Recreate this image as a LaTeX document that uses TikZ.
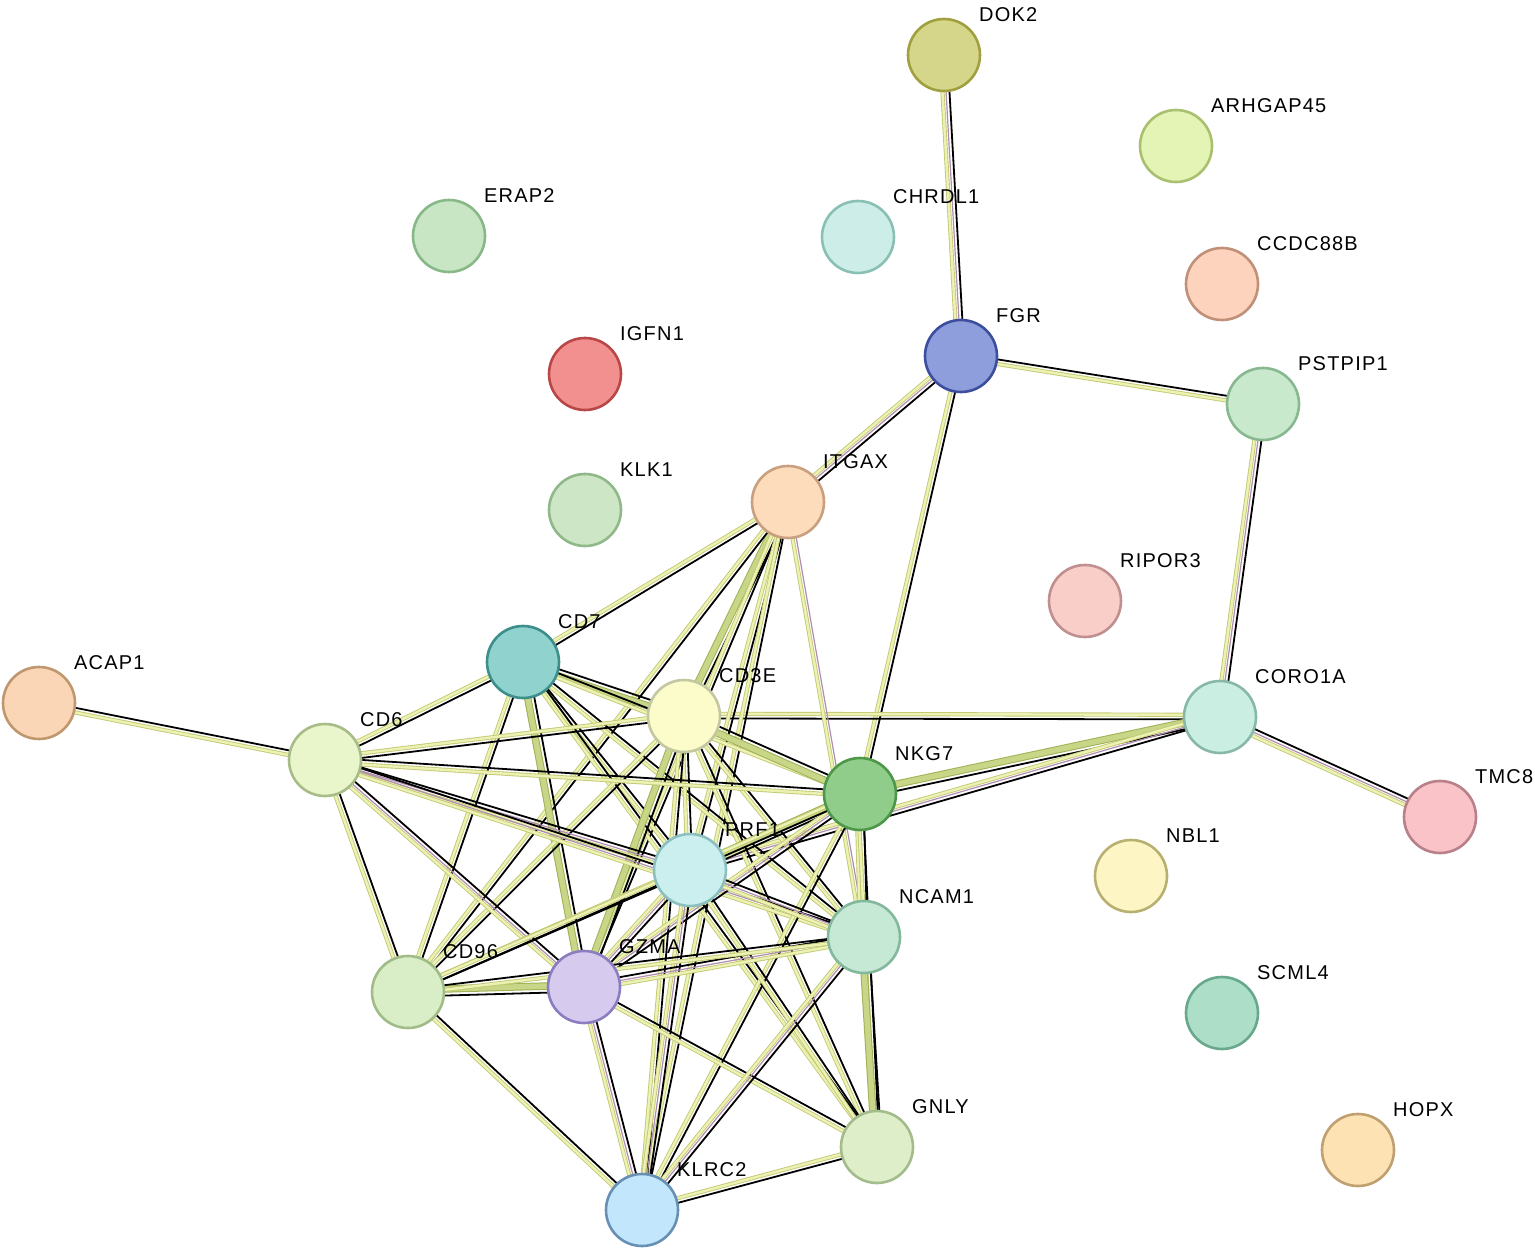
\documentclass[tikz,border=0pt]{standalone}
\usepackage{fontspec}
\setmainfont[LetterSpace=6]{Liberation Sans}
\usetikzlibrary{calc}
\pgfdeclarelayer{bg}\pgfsetlayers{bg,main}
\definecolor{yb}{HTML}{C2CA74}
\definecolor{yf}{HTML}{EDF2B4}
\definecolor{Yb}{HTML}{A0B056}
\definecolor{Yf}{HTML}{C8D688}
\definecolor{pk}{HTML}{B08CB0}
\tikzset{
 gene/.style={circle, minimum size=72pt, inner sep=0pt, line width=2.6pt},
 lbl/.style={anchor=west, font=\fontsize{20}{22}\selectfont, inner sep=0pt},
 kst/.style={draw=black, line width=1.8pt},
 yst/.style={draw=yb, double=yf, double distance=2.4pt, line width=0.9pt},
 Yst/.style={draw=Yb, double=Yf, double distance=5.5pt, line width=1pt},
 pst/.style={draw=pk, line width=1.2pt},
}
\newcommand\estrand[4]{\draw[#4] ($(#1)!#3!90:(#2)$) -- ($(#2)!#3!-90:(#1)$);}
\newcommand\eky[2]{\estrand{#1}{#2}{-2.2pt}{yst}\estrand{#1}{#2}{2.4pt}{kst}}
\newcommand\ekyp[2]{\estrand{#1}{#2}{-3.6pt}{yst}\estrand{#1}{#2}{0pt}{pst}\estrand{#1}{#2}{3.4pt}{kst}}
\newcommand\eKky[2]{\estrand{#1}{#2}{-2pt}{Yst}\estrand{#1}{#2}{4.6pt}{kst}}
\newcommand\eyp[2]{\estrand{#1}{#2}{-1.8pt}{yst}\estrand{#1}{#2}{2pt}{pst}}
\newcommand\gene[6]{%
 \definecolor{f#1}{HTML}{#4}\definecolor{b#1}{HTML}{#5}%
 \node[gene, fill=f#1, draw=b#1] (#1) at (#2,#3) {};
 \node[lbl] (t#1) at (#2+35,#3-40) {#6};}
\begin{document}
\begin{tikzpicture}[x=1pt,y=-1pt]
\useasboundingbox (0,0) rectangle (1535,1249);
\gene{DOK2}{944}{55}{D6D68A}{A0A040}{DOK2}
\gene{ARHGAP45}{1176}{146}{E4F4B4}{A8C070}{ARHGAP45}
\gene{ERAP2}{449}{236}{C8E6C4}{88B888}{ERAP2}
\gene{CHRDL1}{858}{237}{CDEEE8}{88C0B4}{CHRDL1}
\gene{CCDC88B}{1222}{284}{FDD3BD}{C09078}{CCDC88B}
\gene{FGR}{961}{356}{8E9DDB}{3D4E9E}{FGR}
\gene{IGFN1}{585}{374}{F29090}{B84848}{IGFN1}
\gene{PSTPIP1}{1263}{404}{C9E9CC}{88B890}{PSTPIP1}
\gene{KLK1}{585}{510}{CDE6C6}{90B888}{KLK1}
\gene{ITGAX}{788}{502}{FDDCBC}{C8A080}{ITGAX}
\gene{RIPOR3}{1085}{601}{F9CDC8}{C09090}{RIPOR3}
\gene{CD7}{523}{662}{8FD2CE}{3E8E8C}{CD7}
\gene{ACAP1}{39}{703}{FBD6B6}{C09870}{ACAP1}
\gene{CD3E}{684}{716}{FBFCCA}{C4C8A0}{CD3E}
\gene{CORO1A}{1220}{717}{CBEEE2}{88B8A8}{CORO1A}
\gene{CD6}{325}{760}{E9F5CA}{A8BC88}{CD6}
\gene{NKG7}{860}{794}{90CC8A}{4C9848}{NKG7}
\gene{TMC8}{1440}{817}{F9C3C8}{B88088}{TMC8}
\gene{PRF1}{690}{870}{CBEEEE}{8CC0C0}{PRF1}
\gene{NBL1}{1131}{876}{FDF5C4}{B8B070}{NBL1}
\gene{NCAM1}{864}{937}{C6E9D6}{84B89C}{NCAM1}
\gene{CD96}{408}{992}{D9EDC6}{A0BC88}{CD96}
\gene{GZMA}{584}{987}{D6CBEE}{8C7CC0}{GZMA}
\gene{SCML4}{1222}{1013}{ACDEC8}{68A88C}{SCML4}
\gene{GNLY}{877}{1147}{DDEEC8}{A4BC8C}{GNLY}
\gene{HOPX}{1358}{1150}{FDE2B3}{C0A070}{HOPX}
\gene{KLRC2}{642}{1210}{C2E6FC}{6890B4}{KLRC2}
\begin{pgfonlayer}{bg}
\ekyp{DOK2}{FGR}
\ekyp{FGR}{ITGAX}
\eky{FGR}{PSTPIP1}
\eky{FGR}{NKG7}
\ekyp{PSTPIP1}{CORO1A}
\ekyp{CORO1A}{TMC8}
\eky{CORO1A}{CD3E}
\eKky{CORO1A}{NKG7}
\ekyp{CORO1A}{PRF1}
\eky{ACAP1}{CD6}
\eky{ITGAX}{CD7}
\eKky{ITGAX}{CD3E}
\eky{ITGAX}{GZMA}
\eky{ITGAX}{CD96}
\eky{ITGAX}{PRF1}
\eky{ITGAX}{KLRC2}
\eyp{ITGAX}{NCAM1}
\eky{CD7}{CD6}
\eKky{CD7}{CD3E}
\eKky{CD7}{GZMA}
\eky{CD7}{CD96}
\eky{CD7}{PRF1}
\eky{CD7}{NKG7}
\eky{CD7}{NCAM1}
\eky{CD7}{GNLY}
\eky{CD3E}{CD6}
\eKky{CD3E}{NKG7}
\eky{CD3E}{PRF1}
\eKky{CD3E}{GZMA}
\eky{CD3E}{CD96}
\eky{CD3E}{NCAM1}
\eky{CD3E}{GNLY}
\eky{CD3E}{KLRC2}
\eky{CD6}{NKG7}
\ekyp{CD6}{PRF1}
\ekyp{CD6}{NCAM1}
\eky{CD6}{CD96}
\ekyp{CD6}{GZMA}
\eKky{NKG7}{PRF1}
\ekyp{NKG7}{GZMA}
\eky{NKG7}{CD96}
\ekyp{NKG7}{NCAM1}
\eky{NKG7}{KLRC2}
\eky{NKG7}{GNLY}
\ekyp{PRF1}{GZMA}
\eky{PRF1}{CD96}
\ekyp{PRF1}{NCAM1}
\eky{PRF1}{GNLY}
\ekyp{PRF1}{KLRC2}
\eKky{GZMA}{CD96}
\ekyp{GZMA}{NCAM1}
\ekyp{GZMA}{KLRC2}
\eky{GZMA}{GNLY}
\eky{CD96}{KLRC2}
\eky{CD96}{NCAM1}
\eKky{NCAM1}{GNLY}
\ekyp{NCAM1}{KLRC2}
\eky{GNLY}{KLRC2}
\end{pgfonlayer}
\end{tikzpicture}
\end{document}
